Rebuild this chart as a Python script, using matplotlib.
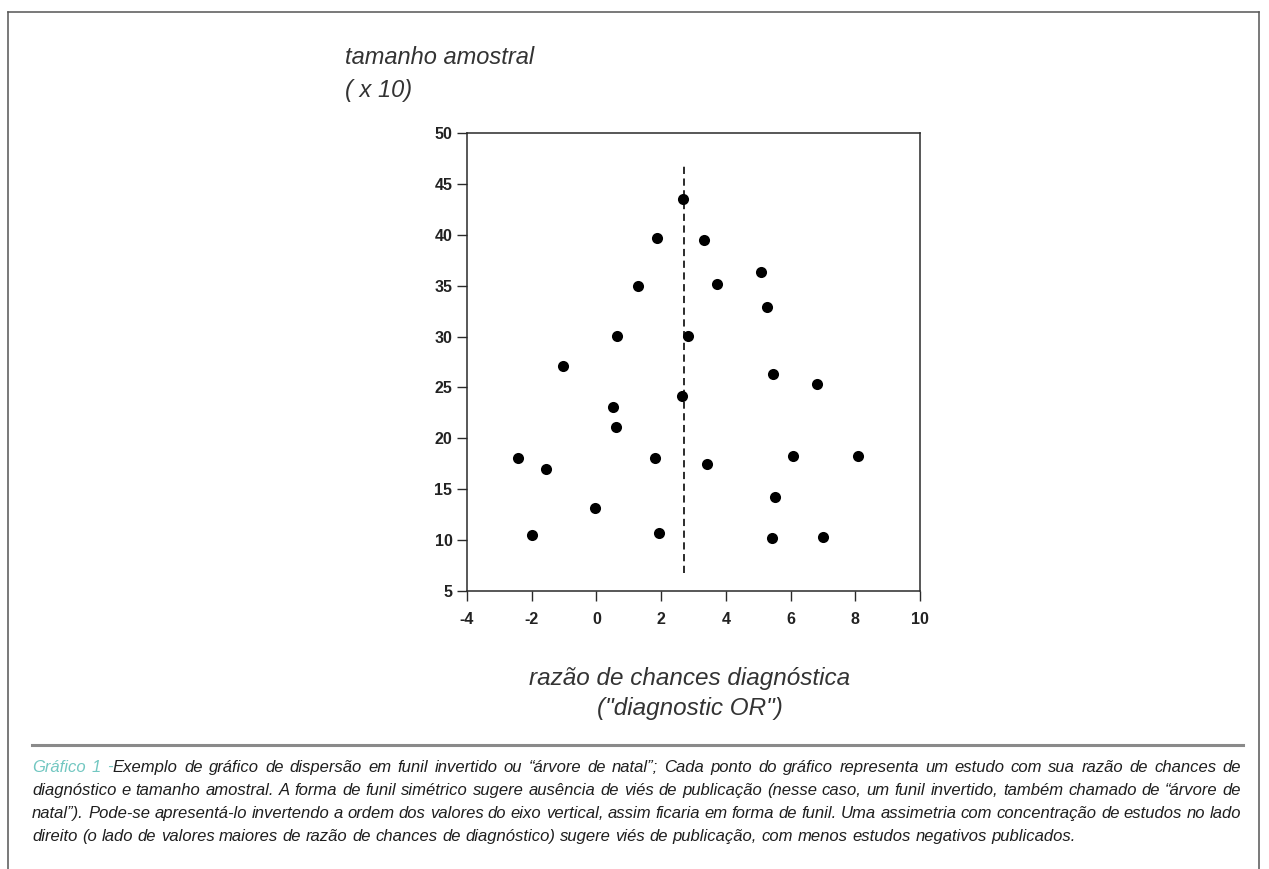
import matplotlib
matplotlib.use("Agg")
import matplotlib.pyplot as plt
from matplotlib.lines import Line2D

# diagnostic OR (x) and sample size /10 (y) for each study
odds_ratio = [2.69, 1.88, 3.31, 5.09, 1.30, 3.72, 5.26, 0.63, 2.82, -1.04,
              5.45, 6.81, 2.63, 0.51, 0.60, -2.43, -1.55, 1.80, 3.43, 6.06,
              8.09, 5.51, -0.03, -1.99, 1.94, 5.43, 6.99]
sample_size = [43.55, 39.69, 39.53, 36.32, 35.01, 35.18, 32.89, 30.04, 30.04, 27.10,
               26.28, 25.36, 24.15, 23.10, 21.07, 18.03, 17.02, 18.10, 17.47, 18.23,
               18.26, 14.20, 13.12, 10.47, 10.67, 10.24, 10.27]
mean_or = 2.71
mean_line_span = [6.74, 47.05]

x_ticks = [-4, -2, 0, 2, 4, 6, 8, 10]
y_ticks = [5, 10, 15, 20, 25, 30, 35, 40, 45, 50]

y_label = ["tamanho amostral", "( x 10)"]
x_label = ["razão de chances diagnóstica", "(\"diagnostic OR\")"]

caption_label = "Gráfico 1 -"
caption_lines = [
    "Exemplo de gráfico de dispersão em funil invertido ou “árvore de natal”; Cada ponto do gráfico representa um estudo com sua razão de chances de",
    "diagnóstico e tamanho amostral. A forma de funil simétrico sugere ausência de viés de publicação (nesse caso, um funil invertido, também chamado de “árvore de",
    "natal”). Pode-se apresentá-lo invertendo a ordem dos valores do eixo vertical, assim ficaria em forma de funil. Uma assimetria com concentração de estudos no lado",
    "direito (o lado de valores maiores de razão de chances de diagnóstico) sugere viés de publicação, com menos estudos negativos publicados.",
]

W, H = 1269, 869
FONT = "Liberation Sans"
TEAL = "#72c7c1"
INK = "#1e1e1e"


def fx(px):
    return px / W


def fy(py):
    return 1 - py / H


def main():
    fig = plt.figure(figsize=(W / 100, H / 100), dpi=100)
    fig.patch.set_facecolor("white")

    # outer frame (open at the bottom)
    frame = dict(color="#555555", lw=1.1, transform=fig.transFigure)
    fig.add_artist(Line2D([fx(8), fx(8)], [fy(12), 0], **frame))
    fig.add_artist(Line2D([fx(8), fx(1259)], [fy(12), fy(12)], **frame))
    fig.add_artist(Line2D([fx(1259), fx(1259)], [fy(12), 0], **frame))

    # scatter plot
    ax = fig.add_axes([fx(467), fy(591), fx(920) - fx(467), fy(133) - fy(591)])
    ax.scatter(odds_ratio, sample_size, s=64, color="black", zorder=3, linewidths=0)
    ax.plot([mean_or, mean_or], mean_line_span, color="#1a1a1a", lw=1.3,
            linestyle=(0, (4, 2.5)), zorder=2)
    ax.set_xlim(-4, 10)
    ax.set_ylim(5, 50)
    ax.set_xticks(x_ticks)
    ax.set_yticks(y_ticks)
    ax.set_xticklabels([str(v) for v in x_ticks])
    ax.set_yticklabels([str(v) for v in y_ticks])
    for sp in ax.spines.values():
        sp.set_linewidth(1.1)
        sp.set_color("#2a2a2a")
    ax.tick_params(direction="out", length=7, width=1.0, color="#2a2a2a",
                   labelsize=11.5, labelcolor="#222222")
    ax.tick_params(axis="x", pad=8)
    ax.tick_params(axis="y", pad=3.5)
    for lab in ax.get_xticklabels() + ax.get_yticklabels():
        lab.set_fontweight("bold")
        lab.set_family(FONT)

    # axis captions
    fig.text(fx(345), fy(57), y_label[0], fontsize=17, style="italic",
             family=FONT, color="#333333", va="center", ha="left")
    fig.text(fx(345), fy(90), y_label[1], fontsize=17, style="italic",
             family=FONT, color="#333333", va="center", ha="left")
    fig.text(fx(690), fy(678), x_label[0], fontsize=17.5, style="italic",
             family=FONT, color="#333333", va="center", ha="center")
    fig.text(fx(690), fy(708), x_label[1], fontsize=17.5, style="italic",
             family=FONT, color="#333333", va="center", ha="center")

    # separator above the caption
    fig.add_artist(Line2D([fx(32), fx(1243)], [fy(745), fy(745)], color="#8a8a8a",
                          lw=2.2, transform=fig.transFigure))

    # justified caption, word by word
    renderer = fig.canvas.get_renderer()
    style = dict(fontsize=12, style="italic", family=FONT)

    def width(s):
        t = fig.text(0, 0, s, **style)
        w = t.get_window_extent(renderer).width
        t.remove()
        return w

    space = width("x x") - width("xx")
    x0, x1 = 32, 1241
    baselines = [772, 795, 818, 841]

    for i, line in enumerate(caption_lines):
        words = [[(w, INK)] for w in line.split()]
        if i == 0:
            lab = [[(w, TEAL)] for w in caption_label.split()]
            words = lab[:-1] + [lab[-1] + words[0]] + words[1:]
        widths = [sum(width(seg) for seg, _ in word) for word in words]
        if i < len(caption_lines) - 1:
            gap = (x1 - x0 - sum(widths)) / (len(words) - 1)
        else:
            gap = space
        x = x0
        for word, w in zip(words, widths):
            sx = x
            for seg, col in word:
                fig.text(fx(sx), fy(baselines[i]), seg, color=col, va="baseline",
                         ha="left", **style)
                sx += width(seg)
            x += w + gap

    fig.savefig("out.png", dpi=100)


if __name__ == "__main__":
    main()
